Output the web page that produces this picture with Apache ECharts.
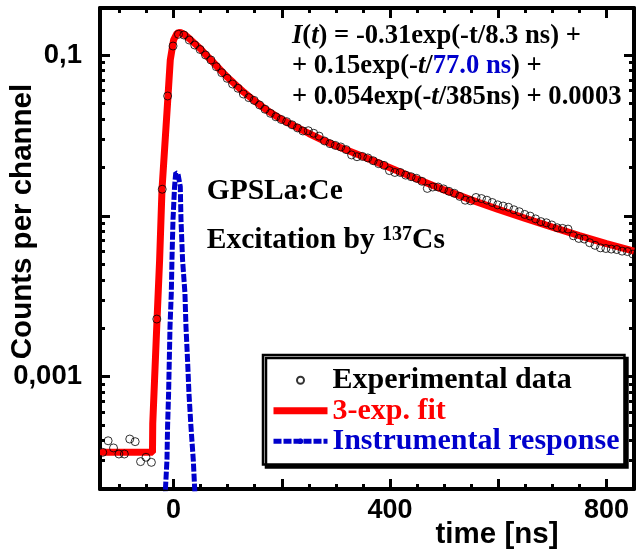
<!DOCTYPE html>
<html>
<head>
<meta charset="utf-8">
<script src="https://cdn.jsdelivr.net/npm/echarts@6/dist/echarts.min.js"></script>
<style>html,body{margin:0;padding:0;background:#fff}#c{width:636px;height:551px}</style>
</head>
<body>
<div id="c"></div>
<script>
// ---- data ----
const expTime = [-131,-121,-111,-101,-91,-81,-71,-61,-51,-41,-31,-21,-11,-1,9,19,29,39,49,59,69,79,89,99,109,119,129,139,149,159,169,179,189,199,209,219,229,239,249,259,269,279,289,299,309,319,329,339,349,359,369,379,389,399,409,419,429,439,449,459,469,479,489,499,509,519,529,539,549,559,569,579,589,599,609,619,629,639,649,659,669,679,689,699,709,719,729,739,749,759,769,779,789,799,809,819,829,839,849];
const expCounts = [0.000338,0.000399,0.000360,0.000330,0.000330,0.000409,0.000394,0.000296,0.000315,0.000293,0.00228,0.01463,0.0556,0.1137,0.1345,0.1331,0.1239,0.1154,0.1082,0.1000,0.0931,0.0846,0.0776,0.0716,0.0660,0.0621,0.0572,0.0543,0.0522,0.0489,0.0460,0.0434,0.0413,0.0397,0.0385,0.0368,0.0352,0.0337,0.0338,0.0326,0.0313,0.0292,0.0281,0.0274,0.0268,0.0258,0.0239,0.0233,0.0234,0.0229,0.0220,0.0211,0.0206,0.0191,0.0186,0.0186,0.0179,0.0175,0.0171,0.0164,0.0148,0.0151,0.0151,0.0147,0.0142,0.0138,0.0132,0.0125,0.0124,0.0130,0.0128,0.0125,0.0121,0.0117,0.0115,0.0113,0.0109,0.0106,0.0102,0.00996,0.00957,0.00920,0.00905,0.00877,0.00843,0.00835,0.00827,0.00751,0.00723,0.00717,0.00680,0.00655,0.00632,0.00626,0.00621,0.00617,0.00603,0.00599,0.00578];

const fitTime = [-136,-39,-38.5,-30.6,-25.8,-21.4,-10.3,-6.1,0,6.3,12.4,20,30,40,50,60,70,80,90,100,110,120,130,140,150,160,170,180,190,200,210,220,230,240,250,275,300,350,400,450,500,550,600,650,700,750,800,851];
const fitCounts = [0.000338,0.000338,0.00051,0.00225,0.00532,0.0146,0.0556,0.0931,0.1239,0.1365,0.138,0.1341,0.1257,0.1171,0.109,0.1,0.0924,0.0851,0.0784,0.0725,0.0675,0.0628,0.0586,0.0551,0.0518,0.0488,0.046,0.0437,0.0416,0.0397,0.0381,0.0366,0.0352,0.0338,0.0325,0.0296,0.0273,0.02336,0.01988,0.01691,0.01449,0.01256,0.01096,0.00964,0.00851,0.00753,0.00672,0.00603];

const irfTime = [-16.2,-14.8,-12.2,-11.1,-9.2,-7.9,-6.6,-4.2,-3.0,-1.1,1.8,4,8,12.4,13.7,16.6,21.0,22.9,25.8,28.4,32.1,36.4,38.8,41.0];
const irfCounts = [0.000129,0.000207,0.000304,0.00049,0.000793,0.001272,0.002048,0.003318,0.00532,0.00943,0.01519,0.0185,0.0183,0.01519,0.00943,0.00532,0.003304,0.002048,0.001272,0.00079,0.00049,0.000304,0.000207,0.000149];

const xMajorTicks = [0,200,400,600,800];
const xLabelTicks = [0,400,800];
const xMinorTicks = [-100,-50,50,100,150,250,300,350,450,500,550,650,700,750,850];
const yMajorTicks = [0.001,0.01,0.1];
const yLabelTicks = [0.001,0.1];
const yMinorTicks = [0.0003,0.0004,0.0005,0.0006,0.0007,0.0008,0.0009,0.002,0.003,0.004,0.005,0.006,0.007,0.008,0.009,0.02,0.03,0.04,0.05,0.06,0.07,0.08,0.09];

const seriesNames = ['Experimental data','3-exp. fit','Instrumental response'];

// ---- styling ----
const RED = '#ff0000', BLUE = '#0000cc';
const X_MIN = -136, X_MAX = 851, Y_MIN = 0.0002, Y_MAX = 0.196;
const sans = {fontFamily:'Liberation Sans', fontWeight:'bold', color:'#000'};
const zip = (a, b) => a.map((v, i) => [v, b[i]]);

function xAx(pos, ticks, len, showLine, labels) {
  const ax = {
    type:'value', min:X_MIN, max:X_MAX, position:pos,
    axisLine:{show:showLine, onZero:false, lineStyle:{color:'#000', width:4}},
    axisTick:{show:true, inside:true, length:len, customValues:ticks, lineStyle:{color:'#000', width:3}},
    axisLabel:{show:false},
    splitLine:{show:false}
  };
  if (labels) {
    ax.axisLabel = Object.assign({show:true, customValues:labels, margin:8, fontSize:27}, sans);
    ax.name = 'time [ns]';
    ax.nameLocation = 'middle';
    ax.nameGap = 31;
    ax.nameMoveOverlap = false;
    ax.nameTextStyle = Object.assign({fontSize:29.5, padding:[0,0,0,260]}, sans);
  }
  return ax;
}
function yAx(pos, ticks, len, showLine, labels) {
  const ax = {
    type:'log', min:Y_MIN, max:Y_MAX, position:pos,
    axisLine:{show:showLine, onZero:false, lineStyle:{color:'#000', width:4}},
    axisTick:{show:true, inside:true, length:len, customValues:ticks, lineStyle:{color:'#000', width:3}},
    axisLabel:{show:false},
    splitLine:{show:false}, minorTick:{show:false}
  };
  if (labels) {
    ax.axisLabel = Object.assign({show:true, customValues:labels, margin:18, fontSize:27.5,
      formatter: v => String(v).replace('.', ',')}, sans);
    ax.name = 'Counts per channel';
    ax.nameLocation = 'middle';
    ax.nameRotate = 90;
    ax.nameGap = 62;
    ax.nameMoveOverlap = false;
    ax.nameTextStyle = Object.assign({fontSize:29.5, padding:[0,0,0,54]}, sans);
  }
  return ax;
}

const serif = {fontFamily:'Liberation Serif', fontWeight:'bold', fontSize:26.6};
const eqRich = {
  n: Object.assign({fill:'#000'}, serif),
  it: Object.assign({fill:'#000', fontStyle:'italic'}, serif),
  bl: Object.assign({fill:BLUE}, serif)
};
function eqText(y, text) {
  return {type:'text', x:292, y:y, z:50, style:{text:text, rich:eqRich, verticalAlign:'middle', align:'left',
    fontFamily:'Liberation Serif', fontWeight:'bold', fontSize:26.6, fill:'#000'}};
}
const big = {fontFamily:'Liberation Serif', fontWeight:'bold', fontSize:29.5};

const chart = echarts.init(document.getElementById('c'), null, {renderer:'canvas'});
chart.setOption({
  animation:false,
  backgroundColor:'#fff',
  grid:{left:100, right:2, top:8, bottom:62, containLabel:false, outerBoundsMode:'none'},
  xAxis:[
    xAx('bottom', xMajorTicks, 10, true, xLabelTicks),
    xAx('bottom', xMinorTicks, 5, false, null),
    xAx('top', xMajorTicks, 10, true, null),
    xAx('top', xMinorTicks, 5, false, null)
  ],
  yAxis:[
    yAx('left', yMajorTicks, 10, true, yLabelTicks),
    yAx('left', yMinorTicks, 5, false, null),
    yAx('right', yMajorTicks, 10, true, null),
    yAx('right', yMinorTicks, 5, false, null)
  ],
  legend:{
    orient:'vertical', left:263, top:355, padding:[10,5,8,7], itemGap:0,
    itemWidth:54, itemHeight:7, selectedMode:false,
    backgroundColor:'#fff', borderColor:'#000', borderWidth:2.5,
    shadowColor:'#000', shadowBlur:0, shadowOffsetX:3, shadowOffsetY:3,
    textStyle:{fontFamily:'Liberation Serif', fontWeight:'bold', fontSize:30, lineHeight:30.5},
    data:[
      {name:seriesNames[0], textStyle:{color:'#000'}},
      {name:seriesNames[1], textStyle:{color:RED}, lineStyle:{width:7}},
      {name:seriesNames[2], textStyle:{color:BLUE}, lineStyle:{width:5}}
    ]
  },
  graphic:[
    eqText(36, '{it|I}{n|(}{it|t}{n|) = -0.31exp(-t/8.3 ns) +}'),
    eqText(66.5, '{n|+ 0.15exp(-}{it|t}{n|/}{bl|77.0 ns}{n|) +}'),
    eqText(97, '{n|+ 0.054exp(-}{it|t}{n|/385ns) + 0.0003}'),
    {type:'text', x:206.7, y:191, z:50, style:Object.assign({text:'GPSLa:Ce', fill:'#000', verticalAlign:'middle'}, big)},
    {type:'text', x:206.7, y:240, z:50, style:Object.assign({
      text:'{m|Excitation by }{s|137}{m|Cs}', verticalAlign:'middle', fill:'#000',
      rich:{
        m:Object.assign({fill:'#000'}, big),
        s:{fill:'#000', fontFamily:'Liberation Serif', fontWeight:'bold', fontSize:20, verticalAlign:'top'}
      }}, big)}
  ],
  series:[
    {name:seriesNames[1], type:'line', xAxisIndex:0, yAxisIndex:0, data:zip(fitTime, fitCounts),
      symbol:'none', showSymbol:false, lineStyle:{color:RED, width:7}, itemStyle:{color:RED}, z:2},
    {name:seriesNames[2], type:'line', xAxisIndex:0, yAxisIndex:0, data:zip(irfTime, irfCounts),
      symbol:'none', showSymbol:false, lineStyle:{color:BLUE, width:5, type:[8,2]}, itemStyle:{color:BLUE}, z:3},
    {name:seriesNames[0], type:'scatter', xAxisIndex:0, yAxisIndex:0, data:zip(expTime, expCounts),
      symbol:'circle', symbolSize:8,
      itemStyle:{color:'rgba(0,0,0,0)', borderColor:'#000', borderWidth:1}, z:4}
  ]
});
</script>
</body>
</html>
